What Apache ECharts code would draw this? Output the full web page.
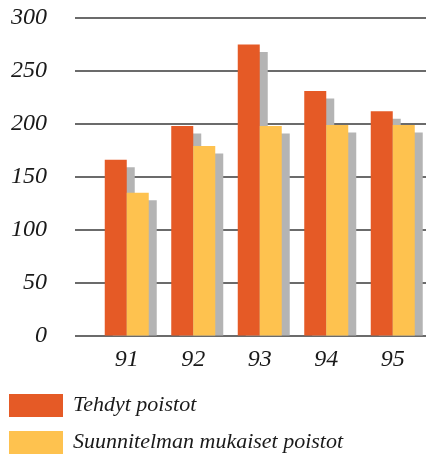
<!DOCTYPE html>
<html><head><meta charset="utf-8">
<script src="https://cdn.jsdelivr.net/npm/echarts@6/dist/echarts.min.js"></script>
<style>html,body{margin:0;padding:0;background:#fff}#c{width:426px;height:457px}</style>
</head><body><div id="c"></div>
<script>
var categories = ['91', '92', '93', '94', '95'];
var tehdyt = [166, 198, 275, 231, 212];
var suunnitelman = [135, 179, 198, 199, 199];
var seriesNames = ['Tehdyt poistot', 'Suunnitelman mukaiset poistot'];
var yTicks = [0, 50, 100, 150, 200, 250, 300];

var COLORS = ['#E55A26', '#FEC24F'];
var SHADOW = '#B4B4B4';
var BW = 22, SX = 8, SY = 7.5;
var FONT = '"Liberation Serif", "DejaVu Serif", serif';

function shadowSeries(vals, idx) {
  return {
    type: 'custom', xAxisIndex: 1, yAxisIndex: 1, z: 1, silent: true,
    data: vals.map(function (v, i) { return [i, v]; }),
    renderItem: function (params, api) {
      var top = api.coord([api.value(0), api.value(1)]);
      var base = api.coord([api.value(0), 0]);
      var x = top[0] - BW + idx * BW + SX;
      var y = top[1] + SY;
      return { type: 'rect', shape: { x: x, y: y, width: BW, height: base[1] - y }, style: { fill: SHADOW } };
    }
  };
}

function legendFor(name, top) {
  return {
    orient: 'horizontal', left: 9, top: top, itemWidth: 54, itemHeight: 23,
    icon: 'rect', data: [name], padding: 0,
    textStyle: { fontFamily: FONT, fontStyle: 'italic', fontSize: 22, lineHeight: 23, color: '#1a1a1a', padding: [0, 0, 0, 5] }
  };
}

var chart = echarts.init(document.getElementById('c'), null, { renderer: 'canvas' });
chart.setOption({
  animation: false,
  grid: [
    { left: 75, right: 0, top: 18, bottom: 121.5 },
    { left: 93.5, right: -7.5, top: 18, bottom: 121.5 }
  ],
  xAxis: [
    { gridIndex: 0, type: 'value', show: false, min: 0, max: 1 },
    { gridIndex: 1, type: 'category', data: categories,
      axisLine: { show: false }, axisTick: { show: false },
      axisLabel: { margin: 12, color: '#1a1a1a', fontFamily: FONT, fontStyle: 'italic', fontSize: 24 } }
  ],
  yAxis: [
    { gridIndex: 0, type: 'value', min: yTicks[0], max: yTicks[yTicks.length - 1], interval: 50,
      axisLine: { show: false }, axisTick: { show: false },
      axisLabel: { margin: 28, color: '#1a1a1a', fontFamily: FONT, fontStyle: 'italic', fontSize: 24 },
      splitLine: { show: true, lineStyle: { color: '#3a3a3a', width: 1.5 } } },
    { gridIndex: 1, type: 'value', min: 0, max: 300, show: false, splitLine: { show: false } }
  ],
  legend: [legendFor(seriesNames[0], 394), legendFor(seriesNames[1], 431)],
  series: [
    shadowSeries(tehdyt, 0),
    shadowSeries(suunnitelman, 1),
    { name: seriesNames[0], type: 'bar', xAxisIndex: 1, yAxisIndex: 1, z: 3, data: tehdyt,
      barWidth: BW, barGap: '0%', itemStyle: { color: COLORS[0] } },
    { name: seriesNames[1], type: 'bar', xAxisIndex: 1, yAxisIndex: 1, z: 3, data: suunnitelman,
      barWidth: BW, barGap: '0%', itemStyle: { color: COLORS[1] } }
  ]
});
</script></body></html>
